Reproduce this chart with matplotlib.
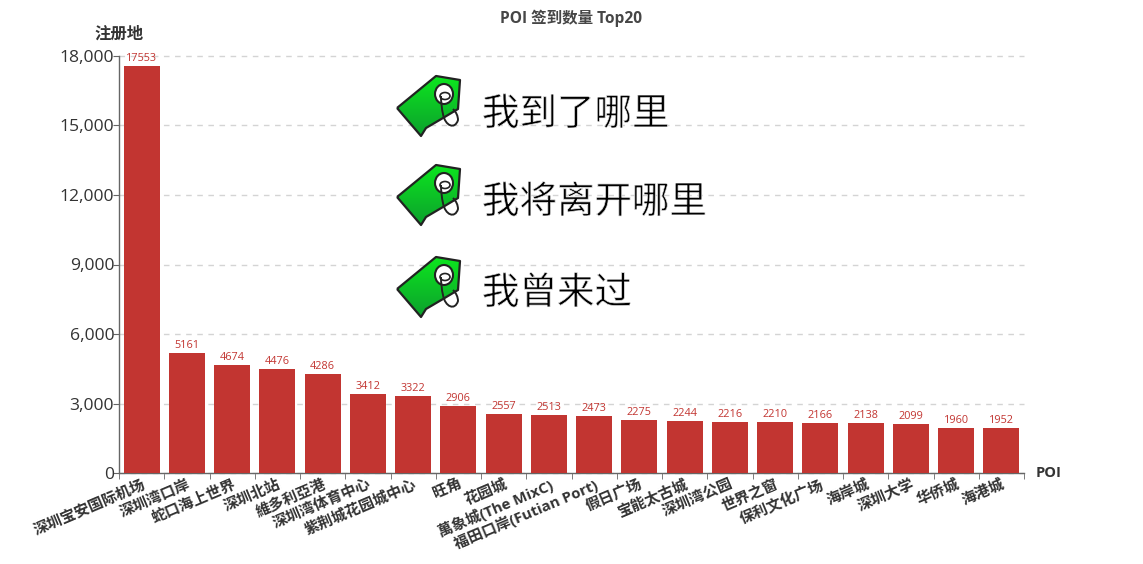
import matplotlib
matplotlib.use('Agg')
import matplotlib.pyplot as plt
import matplotlib.patheffects as pe
import numpy as np
from matplotlib.path import Path
from matplotlib.patches import PathPatch, Ellipse
from matplotlib.ticker import FuncFormatter

plt.rcParams['font.family'] = ['Open Sans', 'Noto Sans CJK SC', 'DejaVu Sans']

pois = ['深圳宝安国际机场', '深圳湾口岸', '蛇口海上世界', '深圳北站', '維多利亞港',
        '深圳湾体育中心', '紫荆城花园城中心', '旺角', '花园城', '萬象城(The MixC)',
        '福田口岸(Futian Port)', '假日广场', '宝能太古城', '深圳湾公园', '世界之窗',
        '保利文化广场', '海岸城', '深圳大学', '华侨城', '海港城']
counts = [17553, 5161, 4674, 4476, 4286, 3412, 3322, 2906, 2557, 2513,
          2473, 2275, 2244, 2216, 2210, 2166, 2138, 2099, 1960, 1952]
yticks = [0, 3000, 6000, 9000, 12000, 15000, 18000]
captions = ['我到了哪里', '我将离开哪里', '我曾来过']

W, H = 1143, 564
fig = plt.figure(figsize=(W / 100, H / 100), dpi=100)
ax = fig.add_axes([119 / W, 1 - 473 / H, 905 / W, 417 / H])

x = np.arange(len(pois))
bars = ax.bar(x, counts, width=0.8, color='#c23531', zorder=3)
for b in bars:
    b.set_path_effects([pe.SimplePatchShadow(offset=(0, -1), shadow_rgbFace='#888888', alpha=0.25),
                        pe.Normal()])
for xi, c in zip(x, counts):
    ax.annotate(str(c), (xi, c), xytext=(0, 1.5), textcoords='offset points', ha='center',
                va='bottom', fontsize=7.8, color='#c23531', zorder=4)

ax.set_xlim(-0.5, len(pois) - 0.5)
ax.set_ylim(0, 18000)
ax.set_yticks(yticks)
ax.yaxis.set_major_formatter(FuncFormatter(lambda v, _: f'{int(v):,}'))
ax.tick_params(axis='y', labelsize=12.6, labelcolor='#333333', length=4, color='#666666', pad=-0.5)
ax.grid(axis='y', color='#d4d4d4', linestyle=(0, (4, 4)), linewidth=1.0, zorder=0, clip_on=False)
ax.set_axisbelow(True)

ax.set_xticks(x)
ax.set_xticklabels(pois, rotation=23, ha='right', va='top', rotation_mode='anchor',
                   fontsize=10.8, fontweight='bold', color='#333333')
ax.tick_params(axis='x', length=0, pad=3)
ax.set_xticks(np.arange(len(pois) + 1) - 0.5, minor=True)
ax.tick_params(axis='x', which='minor', length=4, color='#666666')

for s in ['top', 'right']:
    ax.spines[s].set_visible(False)
for s in ['left', 'bottom']:
    ax.spines[s].set_color('#666666')
    ax.spines[s].set_linewidth(1.0)

# overlay in pixel coords for names and the pasted tags
ov = fig.add_axes([0, 0, 1, 1], zorder=5)
ov.set_xlim(0, W)
ov.set_ylim(H, 0)
ov.axis('off')
ov.patch.set_alpha(0)

ov.text(571, 18, 'POI 签到数量 Top20', ha='center', va='center', fontsize=11.2,
        fontweight='bold', color='#464646')
ov.text(119, 35, '注册地', ha='center', va='center', fontsize=11.8, fontweight='bold', color='#333333')
ov.text(1036, 473, 'POI', ha='left', va='center', fontsize=10.5, fontweight='bold', color='#333333')

# tag outline, offsets from the top-left of the icon box
tag = np.array([(0, 32), (39, 0), (63, 4), (61, 33), (46, 42), (29, 52), (24, 60), (0, 32)], dtype=float)
loop = Path([(44, 20), (44, 30), (46, 38), (48, 50), (58, 54), (61, 44), (61, 38), (56, 33)],
            [Path.MOVETO, Path.CURVE3, Path.CURVE3, Path.CURVE4, Path.CURVE4, Path.CURVE4,
             Path.CURVE3, Path.CURVE3])


def draw_tag(x0, y0):
    pts = tag + [x0, y0]
    path = Path(pts, closed=False)
    grad = np.linspace(0, 1, 64).reshape(-1, 1)
    colors = np.zeros((64, 1, 3))
    colors[..., 0] = 0.05
    colors[..., 1] = 0.90 - 0.28 * grad
    colors[..., 2] = 0.12 + 0.06 * grad
    im = ov.imshow(colors, extent=(x0, x0 + 64, y0 + 62, y0), aspect='auto', zorder=6)
    clip = PathPatch(path, transform=ov.transData, facecolor='none', edgecolor='none')
    ov.add_patch(clip)
    im.set_clip_path(clip)
    ov.add_patch(PathPatch(path, facecolor='none', edgecolor='#222222', linewidth=1.6, zorder=7,
                           joinstyle='round'))
    ov.add_patch(Ellipse((x0 + 47, y0 + 18), 18, 20, facecolor='white', edgecolor='#222222',
                         linewidth=1.5, zorder=8))
    ov.add_patch(Ellipse((x0 + 48, y0 + 20), 10, 7, facecolor='white', edgecolor='#222222',
                         linewidth=1.2, zorder=8))
    moved = Path(loop.vertices + [x0, y0], loop.codes)
    ov.add_patch(PathPatch(moved, facecolor='none', edgecolor='#222222', linewidth=1.4, zorder=9))


for y0, yt, cap in zip([76, 165, 257], [115, 203, 294], captions):
    draw_tag(397, y0)
    ov.text(482, yt, cap, ha='left', va='center', fontsize=27, color='#000000', zorder=9,
            path_effects=[pe.Normal(), pe.Stroke(linewidth=0.5, foreground='white')])

ov.set_xlim(0, W)
ov.set_ylim(H, 0)
fig.savefig('out.png', dpi=100)
